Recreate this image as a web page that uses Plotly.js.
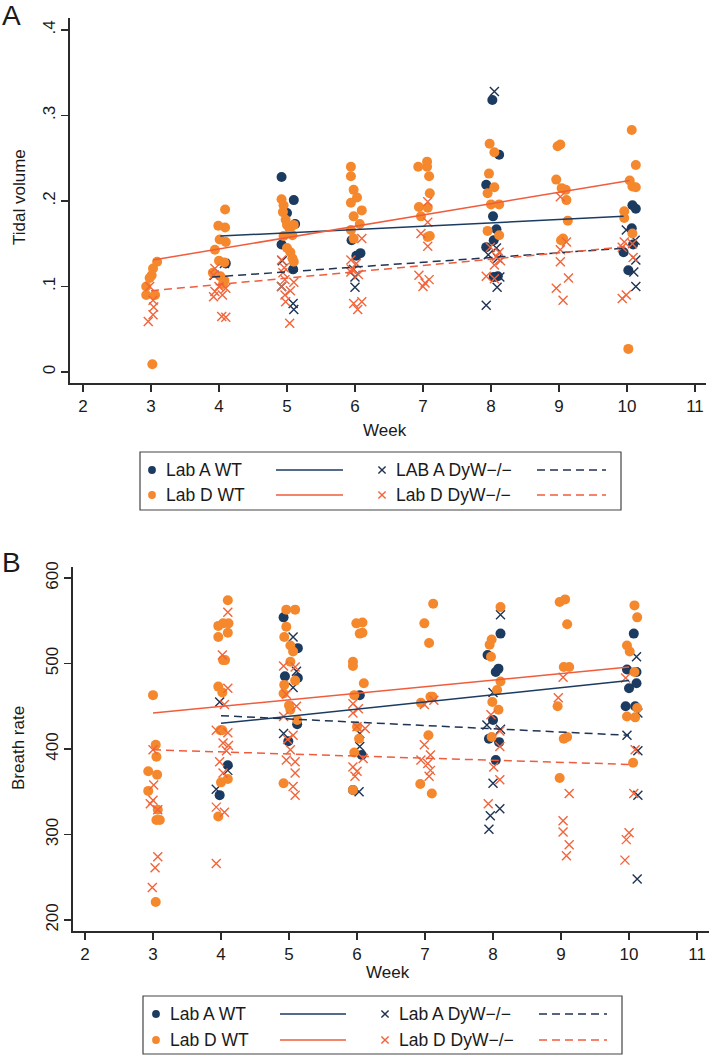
<!DOCTYPE html>
<html>
<head>
<meta charset="utf-8">
<script src="https://cdn.plot.ly/plotly-3.0.1.min.js"></script>
<style>html,body{margin:0;padding:0;background:#fff;}#chart{width:711px;height:1057px;}</style>
</head>
<body>
<div id="chart"></div>
<script>
// ---------- Panel A: Tidal volume ----------
const weekTicks = [2,3,4,5,6,7,8,9,10,11];
const tvTickVals = [0,0.1,0.2,0.3,0.4];
const tvTickText = ['0','.1','.2','.3','.4'];
const brTickVals = [200,300,400,500,600];
const brTickText = ['200','300','400','500','600'];

const A_labA_WT_x = [4.10, 4.92,5.10,5.00,5.12,4.92,5.09, 5.95,6.02,6.08, 8.02,8.12,7.93,8.03,8.08,8.04,7.93,8.04,8.10, 10.08,10.13,10.07,10.09,9.95,10.02];
const A_labA_WT_y = [0.127, 0.228,0.201,0.186,0.173,0.149,0.120, 0.154,0.136,0.139, 0.318,0.254,0.219,0.182,0.167,0.154,0.146,0.111,0.112, 0.195,0.191,0.168,0.149,0.140,0.119];

const A_labD_WT_x = [3.09,3.03,3.01,2.98,2.93,2.93,3.06,3.02,
  4.09,3.99,4.09,4.01,4.10,3.94,4.00,4.08,3.91,4.02,4.08,4.06,
  4.92,4.95,4.94,4.98,5.00,5.04,5.10,4.95,5.08,5.00,5.05,5.08,5.10,
  5.94,5.94,5.98,6.03,5.94,6.10,5.98,6.07,5.94,5.98,
  6.93,7.06,7.06,7.09,7.10,6.94,7.07,6.97,7.07,7.10,
  7.98,8.05,7.97,8.05,7.95,8.00,8.12,7.95,8.12,
  8.98,9.02,8.96,9.04,9.10,9.11,9.13,9.06,9.03,
  10.07,10.13,10.04,10.08,10.13,9.96,9.96,10.08,10.02];
const A_labD_WT_y = [0.129,0.121,0.113,0.110,0.100,0.090,0.090,0.009,
  0.190,0.171,0.169,0.155,0.152,0.143,0.130,0.128,0.116,0.112,0.107,0.103,
  0.202,0.195,0.187,0.178,0.172,0.167,0.172,0.159,0.160,0.145,0.140,0.133,0.129,
  0.240,0.229,0.213,0.204,0.198,0.189,0.182,0.173,0.166,0.156,
  0.240,0.246,0.240,0.229,0.209,0.193,0.192,0.182,0.158,0.159,
  0.267,0.257,0.232,0.216,0.209,0.196,0.196,0.165,0.160,
  0.264,0.266,0.225,0.215,0.213,0.201,0.177,0.156,0.154,
  0.283,0.242,0.224,0.217,0.216,0.188,0.180,0.162,0.027];

const A_labA_KO_x = [4.08,3.93, 4.93,4.92,5.09,5.10, 5.98,6.00,6.00, 8.05,7.93,8.09,8.13,8.08,8.10,7.96, 10.12,9.99,10.13,10.10,10.13];
const A_labA_KO_y = [0.127,0.113, 0.130,0.100,0.080,0.073, 0.120,0.111,0.099, 0.328,0.078,0.099,0.111,0.145,0.133,0.137, 0.154,0.166,0.131,0.117,0.100];

const A_labD_KO_x = [2.98,3.03,3.04,3.03,2.96,
  3.94,3.92,4.00,3.94,4.05,3.92,4.10,4.04,4.10,
  4.92,4.96,4.94,4.97,5.10,4.92,5.05,4.97,4.98,5.04,
  6.10,5.94,6.02,5.95,5.94,6.05,5.98,6.10,6.04,
  7.07,6.97,7.07,7.07,6.94,7.00,7.09,7.03,
  7.99,8.12,8.08,8.14,8.05,7.93,8.05,
  9.02,9.11,9.02,9.02,9.14,8.96,9.06,
  9.96,10.08,9.93,10.09,9.99,9.93];
const A_labD_KO_y = [0.100,0.084,0.076,0.067,0.059,
  0.121,0.113,0.100,0.094,0.090,0.088,0.098,0.065,0.064,
  0.131,0.122,0.116,0.108,0.105,0.100,0.095,0.090,0.082,0.057,
  0.156,0.131,0.127,0.120,0.117,0.114,0.080,0.082,0.073,
  0.199,0.162,0.175,0.147,0.113,0.100,0.108,0.104,
  0.146,0.140,0.135,0.130,0.125,0.112,0.109,
  0.205,0.152,0.143,0.129,0.110,0.098,0.084,
  0.152,0.150,0.146,0.134,0.090,0.086];

// linear fit end points (panel A)
const A_fit_labA_WT_x = [4.02, 9.95], A_fit_labA_WT_y = [0.159, 0.182];
const A_fit_labD_WT_x = [3.03, 10.04], A_fit_labD_WT_y = [0.131, 0.224];
const A_fit_labA_KO_x = [3.9, 10.0], A_fit_labA_KO_y = [0.111, 0.145];
const A_fit_labD_KO_x = [3.0, 10.05], A_fit_labD_KO_y = [0.095, 0.147];

// ---------- Panel B: Breath rate ----------
const B_labA_WT_x = [3.98,4.10, 4.92,5.13,4.94,5.13,4.99,5.12, 6.04,6.07,5.94, 8.11,7.92,8.08,8.04,8.00,7.94,8.09,8.04, 10.07,9.97,10.11,10.00,10.11,9.95,10.09];
const B_labA_WT_y = [346,381, 554,518,485,483,409,429, 463,393,352, 535,510,494,490,434,412,408,387, 535,493,490,471,477,450,450];

const B_labD_WT_x = [3.00,3.04,3.05,2.93,3.06,2.93,3.07,3.10,3.05,3.04,
  4.10,3.96,4.03,4.11,4.10,3.96,4.03,4.06,3.96,4.02,3.99,4.02,4.00,4.10,3.96,
  4.96,5.09,4.96,4.93,5.02,5.06,5.02,4.93,5.09,4.92,5.00,5.02,5.12,4.92,
  5.99,6.08,6.04,6.08,5.94,5.94,6.10,5.96,6.00,6.03,5.96,5.94,
  7.12,6.99,7.06,6.94,7.08,7.11,7.05,6.93,7.10,
  8.11,7.98,7.95,7.97,8.11,8.06,7.99,8.08,7.98,
  8.98,9.06,9.09,9.04,9.12,8.95,9.04,9.09,8.98,
  10.08,10.12,9.97,10.01,10.08,10.12,9.97,10.09,10.06];
const B_labD_WT_y = [463,405,391,374,370,351,329,317,317,221,
  574,544,547,547,536,531,504,504,473,466,422,422,361,365,321,
  563,563,543,531,521,514,502,475,480,465,451,446,434,360,
  547,548,535,536,502,497,477,463,426,412,396,352,
  570,547,524,454,461,461,416,359,348,
  566,528,522,508,479,469,455,446,414,
  572,575,546,496,496,450,412,414,366,
  568,554,521,514,490,448,438,437,384];

const B_labA_KO_x = [3.98,4.10,3.93, 5.06,5.06,5.11,4.92, 6.03,6.04,6.04, 8.11,8.00,7.91,8.11,8.00,8.10,7.96,7.94, 10.11,9.97,10.13,10.13,10.12,10.13];
const B_labA_KO_y = [455,375,353, 531,472,491,418, 350,418,403, 557,466,428,423,360,330,322,306, 508,416,398,346,248,442];

const B_labD_KO_x = [3.00,3.01,3.00,2.96,3.07,3.07,3.03,2.99,
  4.10,4.02,4.10,4.05,3.93,4.10,4.03,4.11,4.08,3.98,4.03,3.93,4.05,3.93,
  4.92,5.09,4.96,5.11,4.92,5.06,4.98,5.02,4.96,5.09,5.09,5.06,5.09,
  5.94,6.02,5.94,6.00,6.12,6.09,5.94,6.00,5.97,
  7.13,6.99,6.99,7.08,6.94,7.04,7.08,7.06,
  7.97,8.10,8.10,8.01,8.10,7.93,
  9.03,8.96,9.12,9.03,9.03,9.12,9.08,
  9.95,10.09,10.07,10.00,9.96,9.94];
const B_labD_KO_y = [399,358,340,336,329,274,261,238,
  560,510,471,452,422,419,407,404,398,385,372,332,326,266,
  497,496,464,450,438,416,411,399,387,385,372,356,346,
  453,447,442,426,424,389,379,374,368,
  457,452,405,393,387,383,375,368,
  440,421,403,379,364,336,
  484,460,348,316,303,288,275,
  483,399,348,302,294,270];

// linear fit end points (panel B)
const B_fit_labA_WT_x = [4.0, 10.0], B_fit_labA_WT_y = [430, 480];
const B_fit_labD_WT_x = [3.0, 10.0], B_fit_labD_WT_y = [442, 496];
const B_fit_labA_KO_x = [4.0, 10.0], B_fit_labA_KO_y = [439, 416];
const B_fit_labD_KO_x = [3.0, 10.0], B_fit_labD_KO_y = [399, 382];

const legendA = ['Lab A WT', 'Lab D WT', 'LAB A DyW\u2212/\u2212', 'Lab D DyW\u2212/\u2212'];
const legendB = ['Lab A WT', 'Lab D WT', 'Lab A DyW\u2212/\u2212', 'Lab D DyW\u2212/\u2212'];

// ---------- styles ----------
const NAVY = '#1b3b60';
const NAVYX = '#1f3353';
const ORANGE = '#f5882c';
const ORANGEX = '#f2643a';
const ORLINE = '#f15c3c';
const FONT = "'Liberation Sans', Arial, Helvetica, sans-serif";
const TXT = '#1a1a1a';
const W = 711, H = 1057;
const px = v => v / W;
const py = v => 1 - v / H;

function dots(x, y, color, xa, ya) {
  return {type:'scatter', mode:'markers', x:x, y:y, xaxis:xa, yaxis:ya,
    marker:{symbol:'circle', size:10, color:color, line:{width:0}}, hoverinfo:'skip'};
}
function crosses(x, y, color, xa, ya) {
  return {type:'scatter', mode:'markers', x:x, y:y, xaxis:xa, yaxis:ya,
    marker:{symbol:'x-thin', size:9, color:color, line:{width:1.4, color:color}}, hoverinfo:'skip'};
}
function fit(x, y, color, dash, xa, ya) {
  return {type:'scatter', mode:'lines', x:x, y:y, xaxis:xa, yaxis:ya,
    line:{color:color, width:1.5, dash:dash}, hoverinfo:'skip'};
}
const DASH = '8px,5px';

const traces = [
  dots(A_labA_WT_x, A_labA_WT_y, NAVY, 'x', 'y'),
  crosses(A_labA_KO_x, A_labA_KO_y, NAVYX, 'x', 'y'),
  dots(A_labD_WT_x, A_labD_WT_y, ORANGE, 'x', 'y'),
  crosses(A_labD_KO_x, A_labD_KO_y, ORANGEX, 'x', 'y'),
  fit(A_fit_labA_WT_x, A_fit_labA_WT_y, NAVY, 'solid', 'x', 'y'),
  fit(A_fit_labD_WT_x, A_fit_labD_WT_y, ORLINE, 'solid', 'x', 'y'),
  fit(A_fit_labA_KO_x, A_fit_labA_KO_y, NAVYX, DASH, 'x', 'y'),
  fit(A_fit_labD_KO_x, A_fit_labD_KO_y, ORLINE, DASH, 'x', 'y'),

  dots(B_labA_WT_x, B_labA_WT_y, NAVY, 'x2', 'y2'),
  crosses(B_labA_KO_x, B_labA_KO_y, NAVYX, 'x2', 'y2'),
  dots(B_labD_WT_x, B_labD_WT_y, ORANGE, 'x2', 'y2'),
  crosses(B_labD_KO_x, B_labD_KO_y, ORANGEX, 'x2', 'y2'),
  fit(B_fit_labA_WT_x, B_fit_labA_WT_y, NAVY, 'solid', 'x2', 'y2'),
  fit(B_fit_labD_WT_x, B_fit_labD_WT_y, ORLINE, 'solid', 'x2', 'y2'),
  fit(B_fit_labA_KO_x, B_fit_labA_KO_y, NAVYX, DASH, 'x2', 'y2'),
  fit(B_fit_labD_KO_x, B_fit_labD_KO_y, ORLINE, DASH, 'x2', 'y2')
];

const axisCommon = {
  showline:true, linecolor:'#2b2b2b', linewidth:1.6, mirror:false,
  ticks:'outside', ticklen:7, tickwidth:1.5, tickcolor:'#2b2b2b',
  showgrid:false, zeroline:false, tickfont:{family:FONT, size:17, color:TXT},
  fixedrange:true
};

const layout = {
  width:W, height:H, margin:{l:0, r:0, t:0, b:0},
  paper_bgcolor:'#fff', plot_bgcolor:'#fff', showlegend:false,
  font:{family:FONT, color:TXT},
  xaxis:Object.assign({}, axisCommon, {domain:[px(70), px(706)], range:[1.809, 11.162], anchor:'y',
    tickmode:'array', tickvals:weekTicks}),
  yaxis:Object.assign({}, axisCommon, {domain:[py(383), py(18)], range:[-0.0129, 0.414], anchor:'x',
    tickmode:'array', tickvals:tvTickVals, ticktext:tvTickText, tickangle:-90}),
  xaxis2:Object.assign({}, axisCommon, {domain:[px(73), px(709)], range:[1.8235, 11.176], anchor:'y2',
    tickmode:'array', tickvals:weekTicks}),
  yaxis2:Object.assign({}, axisCommon, {domain:[py(931), py(567)], range:[187.1, 612.9], anchor:'x2',
    tickmode:'array', tickvals:brTickVals, ticktext:brTickText, tickangle:-90}),
  shapes:[], annotations:[]
};

function ann(text, x, y, size, opts) {
  return Object.assign({text:text, x:px(x), y:py(y), xref:'paper', yref:'paper', showarrow:false,
    font:{family:FONT, size:size, color:TXT}, xanchor:'center', yanchor:'middle', borderpad:0}, opts || {});
}
// panel letters
layout.annotations.push(ann('A', 1, 15, 28, {xanchor:'left'}));
layout.annotations.push(ann('B', 1, 562, 28, {xanchor:'left'}));
// axis titles
layout.annotations.push(ann('Tidal volume', 19, 197, 17, {textangle:-90}));
layout.annotations.push(ann('Week', 385, 431, 17));
layout.annotations.push(ann('Breath rate', 18, 748, 17, {textangle:-90}));
layout.annotations.push(ann('Week', 388, 972, 17));

function legend(box, rows, cols, labels) {
  layout.shapes.push({type:'rect', xref:'paper', yref:'paper', x0:px(box[0]), x1:px(box[1]), y0:py(box[3]), y1:py(box[2]),
    line:{color:'#444', width:1.2}, fillcolor:'rgba(0,0,0,0)'});
  const items = [
    {row:0, kind:'dot', color:NAVY, line:NAVY, dash:'solid', label:labels[0], col:0},
    {row:1, kind:'dot', color:ORANGE, line:ORLINE, dash:'solid', label:labels[1], col:0},
    {row:0, kind:'x', color:NAVYX, line:NAVYX, dash:DASH, label:labels[2], col:1},
    {row:1, kind:'x', color:ORANGEX, line:ORLINE, dash:DASH, label:labels[3], col:1}
  ];
  items.forEach(it => {
    const c = cols[it.col];
    const yc = rows[it.row];
    if (it.kind === 'dot') {
      const r = 3.9;
      layout.shapes.push({type:'circle', xref:'paper', yref:'paper', x0:px(c.mark - r), x1:px(c.mark + r),
        y0:py(yc + r), y1:py(yc - r), fillcolor:it.color, line:{width:0}});
    } else {
      const r = 3.6;
      layout.shapes.push({type:'line', xref:'paper', yref:'paper', x0:px(c.mark - r), x1:px(c.mark + r),
        y0:py(yc - r), y1:py(yc + r), line:{color:it.color, width:1.4}});
      layout.shapes.push({type:'line', xref:'paper', yref:'paper', x0:px(c.mark - r), x1:px(c.mark + r),
        y0:py(yc + r), y1:py(yc - r), line:{color:it.color, width:1.4}});
    }
    layout.annotations.push(ann(it.label, c.text, yc, 17.5, {xanchor:'left'}));
    layout.shapes.push({type:'line', xref:'paper', yref:'paper', x0:px(c.l0), x1:px(c.l1), y0:py(yc), y1:py(yc),
      line:{color:it.line, width:1.5, dash:it.dash}});
  });
}
legend([140, 621, 452, 510], [470, 495],
  [{mark:152, text:165, l0:276, l1:343}, {mark:382, text:395, l0:537, l1:606}], legendA);
legend([143, 622, 996, 1054], [1014, 1040],
  [{mark:156, text:169, l0:280, l1:346}, {mark:385, text:398, l0:539, l1:607}], legendB);

Plotly.newPlot('chart', traces, layout, {staticPlot:true, displayModeBar:false});
</script>
</body>
</html>
